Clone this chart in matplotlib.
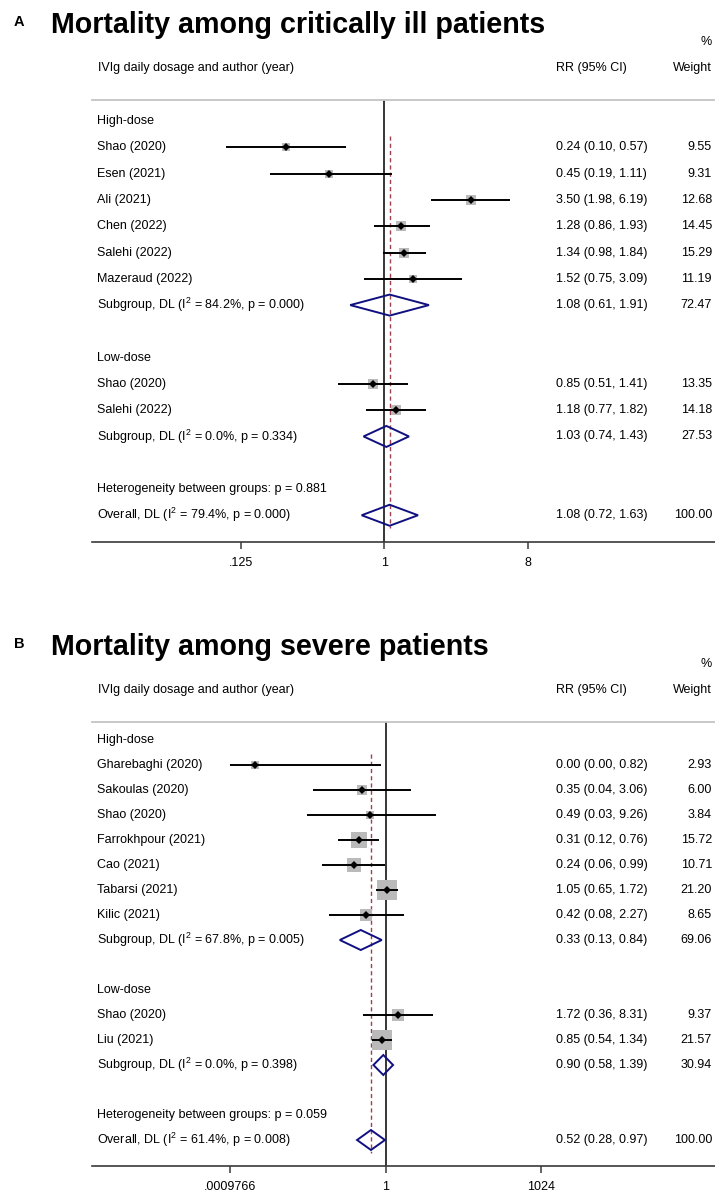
import matplotlib
matplotlib.use("Agg")
import matplotlib.pyplot as plt
from matplotlib import transforms
from matplotlib.patches import Polygon
import numpy as np

plt.rcParams['font.family'] = ['Liberation Sans', 'DejaVu Sans']
plt.rcParams['mathtext.fontset'] = 'custom'
plt.rcParams['mathtext.rm'] = 'Liberation Sans'
plt.rcParams['mathtext.it'] = 'Liberation Sans:italic'
plt.rcParams['mathtext.bf'] = 'Liberation Sans:bold'

# ---------------- Data: Panel A (critically ill) ----------------
a_title = "Mortality among critically ill patients"
a_hi_names = ["Shao (2020)", "Esen (2021)", "Ali (2021)", "Chen (2022)", "Salehi (2022)", "Mazeraud (2022)"]
a_hi_rr = [0.24, 0.45, 3.50, 1.28, 1.34, 1.52]
a_hi_lo = [0.10, 0.19, 1.98, 0.86, 0.98, 0.75]
a_hi_up = [0.57, 1.11, 6.19, 1.93, 1.84, 3.09]
a_hi_w = [9.55, 9.31, 12.68, 14.45, 15.29, 11.19]
a_hi_sub = [1.08, 0.61, 1.91, 72.47]
a_hi_i2p = [84.2, 0.000]

a_lo_names = ["Shao (2020)", "Salehi (2022)"]
a_lo_rr = [0.85, 1.18]
a_lo_lo = [0.51, 0.77]
a_lo_up = [1.41, 1.82]
a_lo_w = [13.35, 14.18]
a_lo_sub = [1.03, 0.74, 1.43, 27.53]
a_lo_i2p = [0.0, 0.334]

a_het_p = 0.881
a_overall = [1.08, 0.72, 1.63, 100.00]
a_overall_i2p = [79.4, 0.000]
a_ticks = [0.125, 1, 8]
a_ticklabels = [".125", "1", "8"]

# ---------------- Data: Panel B (severe) ----------------
b_title = "Mortality among severe patients"
b_hi_names = ["Gharebaghi (2020)", "Sakoulas (2020)", "Shao (2020)", "Farrokhpour (2021)",
              "Cao (2021)", "Tabarsi (2021)", "Kilic (2021)"]
b_hi_rr = [0.003, 0.35, 0.49, 0.31, 0.24, 1.05, 0.42]
b_hi_lo = [0.00098, 0.04, 0.03, 0.12, 0.06, 0.65, 0.08]
b_hi_up = [0.82, 3.06, 9.26, 0.76, 0.99, 1.72, 2.27]
b_hi_w = [2.93, 6.00, 3.84, 15.72, 10.71, 21.20, 8.65]
b_hi_sub = [0.33, 0.13, 0.84, 69.06]
b_hi_i2p = [67.8, 0.005]

b_lo_names = ["Shao (2020)", "Liu (2021)"]
b_lo_rr = [1.72, 0.85]
b_lo_lo = [0.36, 0.54]
b_lo_up = [8.31, 1.34]
b_lo_w = [9.37, 21.57]
b_lo_sub = [0.90, 0.58, 1.39, 30.94]
b_lo_i2p = [0.0, 0.398]

b_het_p = 0.059
b_overall = [0.52, 0.28, 0.97, 100.00]
b_overall_i2p = [61.4, 0.008]
b_ticks = [0.0009765625, 1, 1024]
b_ticklabels = [".0009766", "1", "1024"]

group_names = ["High-dose", "Low-dose"]

# ---------------- Layout ----------------
W, H = 715, 1194
fig = plt.figure(figsize=(W / 100, H / 100), dpi=100)


def fx(px):
    return px / W


def fy(py):
    return 1 - py / H


FS = 9
SQ_COLOR = "#bababa"
DIA_COLOR = "#101080"
OV_COLOR = "#a0404a"


def draw_panel(letter, title, groups, het_p, overall, overall_i2p, ticks, ticklabels,
               off, top_px, bot_px, row0_px, pitch, xl, sq_scale):
    ax = fig.add_axes([fx(92), fy(bot_px), fx(715) - fx(92), (bot_px - top_px) / H])
    ax.set_xscale('log', base=2)
    ax.set_xlim(2.0 ** xl[0], 2.0 ** xl[1])
    ax.set_ylim((bot_px - row0_px) / pitch, (top_px - row0_px) / pitch)
    for s in ['left', 'right']:
        ax.spines[s].set_visible(False)
    ax.spines['top'].set_color('#c4c4c4')
    ax.spines['top'].set_linewidth(1.3)
    ax.spines['bottom'].set_color('#3a3a3a')
    ax.spines['bottom'].set_linewidth(1.2)
    ax.set_yticks([])
    ax.set_xticks(ticks)
    ax.set_xticklabels(ticklabels)
    ax.xaxis.set_minor_locator(matplotlib.ticker.NullLocator())
    ax.tick_params(axis='x', direction='out', length=5, width=1.1, color='#3a3a3a',
                   labelsize=FS, pad=5.5)

    trans = transforms.blended_transform_factory(fig.transFigure, ax.transData)

    # Titles and headers
    fig.text(fx(14), fy(off + 26), letter, fontsize=10.5, fontweight='bold', va='baseline', ha='left')
    fig.text(fx(51), fy(off + 33), title, fontsize=20.6, fontweight='bold', va='baseline', ha='left')
    fig.text(fx(712), fy(off + 42), "%", fontsize=FS, va='center', ha='right')
    fig.text(fx(98), fy(off + 68), "IVIg daily dosage and author (year)", fontsize=FS, va='center', ha='left')
    fig.text(fx(556), fy(off + 68), "RR (95% CI)", fontsize=FS, va='center', ha='left')
    fig.text(fx(712), fy(off + 68), "Weight", fontsize=FS, va='center', ha='right')

    def row_text(r, label, est=None, w=None):
        ax.text(fx(97), r, label, transform=trans, va='center', ha='left', fontsize=FS)
        if est is not None:
            ax.text(fx(556), r, "%.2f (%.2f, %.2f)" % est, transform=trans,
                    va='center', ha='left', fontsize=FS)
            ax.text(fx(712), r, "%.2f" % w, transform=trans, va='center', ha='right', fontsize=FS)

    def diamond(r, est, lo, up):
        poly = Polygon([(lo, r), (est, r - 0.4), (up, r), (est, r + 0.4)], closed=True,
                       facecolor='none', edgecolor=DIA_COLOR, linewidth=1.4, zorder=4)
        ax.add_patch(poly)

    r = 0
    for gname, (names, rr, lo, up, wt, sub, i2p) in zip(group_names, groups):
        row_text(r, gname)
        r += 1
        for n, e, l, u, w in zip(names, rr, lo, up, wt):
            side_pt = sq_scale * np.sqrt(w) * 0.72
            ax.plot([e], [r], marker='s', ms=side_pt, color=SQ_COLOR, mew=0, zorder=3)
            ax.plot([l, u], [r, r], color='black', lw=1.4, solid_capstyle='butt', zorder=5)
            ax.plot([e], [r], marker='D', ms=3.6, color='black', mew=0, zorder=6)
            row_text(r, n, (e, l, u), w)
            r += 1
        row_text(r, "Subgroup, DL (I$^{2}$ = %.1f%%, p = %.3f)" % (i2p[0], i2p[1]),
                 tuple(sub[:3]), sub[3])
        diamond(r, *sub[:3])
        r += 2
    row_text(r, "Heterogeneity between groups: p = %.3f" % het_p)
    r += 1
    row_text(r, "Overall, DL (I$^{2}$ = %.1f%%, p = %.3f)" % (overall_i2p[0], overall_i2p[1]),
             tuple(overall[:3]), overall[3])
    diamond(r, *overall[:3])

    # null line and overall line
    ax.axvline(1, color='black', lw=1.1, zorder=2)
    ax.plot([overall[0], overall[0]], [0.55, r + 0.5], color=OV_COLOR, lw=1.0,
            linestyle=(0, (3, 2.2)), zorder=2)
    return ax


groups_a = [
    (a_hi_names, a_hi_rr, a_hi_lo, a_hi_up, a_hi_w, a_hi_sub, a_hi_i2p),
    (a_lo_names, a_lo_rr, a_lo_lo, a_lo_up, a_lo_w, a_lo_sub, a_lo_i2p),
]
groups_b = [
    (b_hi_names, b_hi_rr, b_hi_lo, b_hi_up, b_hi_w, b_hi_sub, b_hi_i2p),
    (b_lo_names, b_lo_rr, b_lo_lo, b_lo_up, b_lo_w, b_lo_sub, b_lo_i2p),
]

draw_panel("A", a_title, groups_a, a_het_p, a_overall, a_overall_i2p, a_ticks, a_ticklabels,
           off=0, top_px=100, bot_px=542, row0_px=121.2, pitch=26.27,
           xl=(-6.115, 6.918), sq_scale=2.6)
draw_panel("B", b_title, groups_b, b_het_p, b_overall, b_overall_i2p, b_ticks, b_ticklabels,
           off=622, top_px=722, bot_px=1166, row0_px=740, pitch=25.0,
           xl=(-18.85, 21.14), sq_scale=4.2)

fig.savefig("out.png", dpi=100)
